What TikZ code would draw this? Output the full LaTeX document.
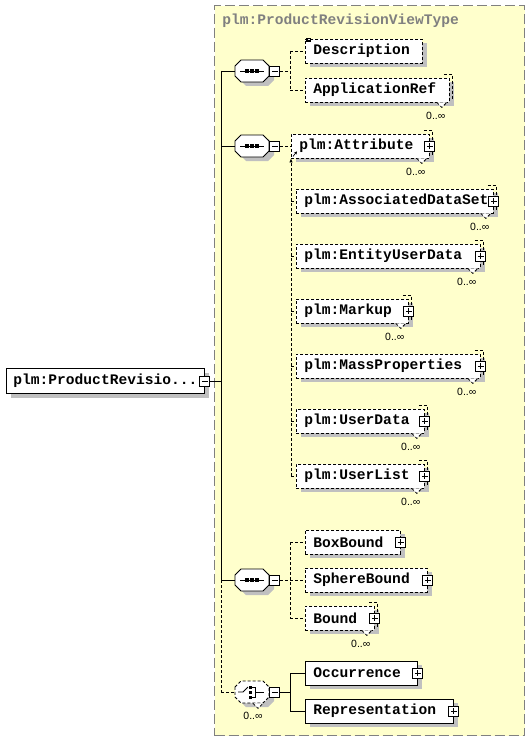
\documentclass[tikz,border=0pt]{standalone}
\usepackage{fontspec}
\usepackage{tikz}
\usetikzlibrary{shadows,calc,arrows.meta}

\newfontfamily\xsdmono{Liberation Mono}
\newfontfamily\xsdsans{Liberation Sans}

\definecolor{xsdyellow}{RGB}{255,255,204}
\definecolor{xsdshadow}{RGB}{192,192,192}
\definecolor{xsdgray}{RGB}{128,128,128}

\begin{document}
\begin{tikzpicture}[x=1pt,y=-1pt,line width=0.8pt]

\def\trunkx{221}
\def\forkx{290}
\def\boxh{24}
\def\elemfont{\xsdmono\bfseries\fontsize{14.6pt}{16pt}\selectfont}
\def\occfont{\xsdsans\fontsize{10.5pt}{12pt}\selectfont}

\tikzset{
    optline/.style={dash pattern=on 3pt off 2pt},
    boxshadow/.style={drop shadow={shadow xshift=5pt,shadow yshift=-4pt,fill=xsdshadow,opacity=1}},
    elem/.style={
        draw, fill=white, boxshadow,
        font=\elemfont,
        minimum height=\boxh pt, inner xsep=8pt, inner ysep=0pt,
        anchor=west, align=left, text width=#1
    },
    rootbox/.style={
        draw, fill=white, boxshadow, font=\elemfont,
        minimum height=25pt, inner xsep=7pt, inner ysep=0pt
    },
    typebox/.style={
        fill=xsdyellow, draw=xsdgray, line width=1.2pt,
        dash pattern=on 10pt off 4pt, inner sep=0pt
    },
    typetitle/.style={font=\elemfont, text=xsdgray, inner sep=0pt},
    occlabel/.style={font=\occfont, inner sep=0pt, anchor=north},
    compositor/.style={minimum width=34pt, minimum height=22pt, inner sep=0pt},
    tgbox/.style={draw, fill=white, minimum size=10pt, inner sep=0pt, solid},
    minusbox/.style={tgbox, path picture={
        \draw (path picture bounding box.center) +(-3,0) -- +(3,0);
    }},
    plusbox/.style={tgbox, path picture={
        \draw (path picture bounding box.center) +(-3,0) -- +(3,0) +(0,-3) -- +(0,3);
    }}
}

\useasboundingbox (0,0) rectangle (530,741);

% Type area
\node[typebox, minimum width=310pt, minimum height=730pt, anchor=north west] (ptype) at (214,5) {};
\node[typetitle, anchor=west] (ptitle) at ($(ptype.north west)+(8,16)$) {plm:ProductRevisionViewType};

% Root element
\node[rootbox, anchor=west] (root) at (6,381) {plm:ProductRevisio...};
\node[minusbox] (root-tg) at (root.east) {};

% Compositors (octagons)
\foreach \nm/\yc/\ln in {seq1/71/solid,seq2/146/solid,seq3/580/solid,choice/692/optline}{
    \node[compositor] (\nm) at (252,\yc) {};
    \fill[xsdshadow] ($(\nm)+(5,4)$) ++(-17,-5) -- ++(6,-6) -- ++(22,0) -- ++(6,6)
        -- ++(0,10) -- ++(-6,6) -- ++(-22,0) -- ++(-6,-6) -- cycle;
    \filldraw[fill=white, \ln] (\nm) ++(-17,-5) -- ++(6,-6) -- ++(22,0) -- ++(6,6)
        -- ++(0,10) -- ++(-6,6) -- ++(-22,0) -- ++(-6,-6) -- cycle;
    \node[minusbox, anchor=west] (\nm-tg) at (\nm.east) {};
}

% Sequence symbols
\foreach \nm in {seq1,seq2,seq3}{
    \draw ($(\nm)+(-12,0)$) -- ($(\nm)+(12,0)$);
    \foreach \dx in {-5,0,5}
        \fill ($(\nm)+(\dx-1.75,-1.75)$) rectangle ++(3.5,3.5);
}

% Choice symbol
\draw ($(choice)+(-14,0)$) -- ($(choice)+(-9,0)$) -- ($(choice)+(-4,-5)$);
\draw ($(choice)+(0,-5)$) -- ($(choice)+(3,-5)$) -- ($(choice)+(3,5)$) -- ($(choice)+(0,5)$);
\draw ($(choice)+(3,0)$) -- ($(choice)+(12,0)$);
\foreach \dy in {-5,0,5}
    \fill ($(choice)+(-3,\dy-1.5)$) rectangle ++(3,3);
\draw[optline, fill=white] ($(choice.south)+(1,0)$) -- ++(5,5) -- ++(5,-5);
\node[occlabel] (choice-occ) at ($(choice.south)+(1,8)$) {0..∞};

% Sequence 1
\node[elem=101pt, optline] (desc) at (305,51) {Description};
\foreach \k in {0,1.6,3.2}
    \draw[line width=0.6pt] ($(desc.north west)+(1,\k)$) -- ++(5,0);
\node[elem=128pt, optline] (appref) at (305,90) {ApplicationRef};
\draw[optline] ($(appref.north east)+(-6,-3)$) -- ($(appref.north east)+(3,-3)$) -- ($(appref.south east)+(3,-3)$);
\draw[optline, fill=white] ($(appref.south east)+(-13,0)$) -- ++(5,5) -- ++(5,-5);
\node[occlabel] (appref-occ) at ($(appref.south east)+(-14,9)$) {0..∞};

% Sequence 2
\node[elem=122pt, optline] (attr) at (291,146) {plm:Attribute};
\draw[optline] ($(attr.north east)+(-6,-3)$) -- ($(attr.north east)+(3,-3)$) -- ($(attr.south east)+(3,-3)$);
\draw[optline, fill=white] ($(attr.south east)+(-13,0)$) -- ++(5,5) -- ++(5,-5);
\node[occlabel] (attr-occ) at ($(attr.south east)+(-14,9)$) {0..∞};
\node[plusbox] (attr-tg) at (attr.east) {};
\draw[-{Stealth[length=3pt,width=3pt]}, line width=0.7pt] ($(attr.south west)+(2,-2)$) -- ($(attr.south west)+(6,-7)$);

\foreach \nm/\txt/\bw/\yc in {assoc/plm:AssociatedDataSet/197/201,
    entity/plm:EntityUserData/184/256, markup/plm:Markup/112/311,
    mass/plm:MassProperties/184/366, udata/plm:UserData/128/421,
    ulist/plm:UserList/128/476}{
    \pgfmathsetmacro\txtw{\bw-16}
    \node[elem=\txtw pt, optline] (\nm) at (296,\yc) {\txt};
    \draw[optline] ($(\nm.north east)+(-6,-3)$) -- ($(\nm.north east)+(3,-3)$) -- ($(\nm.south east)+(3,-3)$);
    \draw[optline, fill=white] ($(\nm.south east)+(-13,0)$) -- ++(5,5) -- ++(5,-5);
    \node[occlabel] (\nm-occ) at ($(\nm.south east)+(-14,9)$) {0..∞};
    \node[plusbox] (\nm-tg) at (\nm.east) {};
}

% Sequence 3
\foreach \nm/\txt/\bw/\yc in {boxb/BoxBound/95/542, sphere/SphereBound/122/580}{
    \pgfmathsetmacro\txtw{\bw-16}
    \node[elem=\txtw pt, optline] (\nm) at (305,\yc) {\txt};
    \node[plusbox] (\nm-tg) at (\nm.east) {};
}
\node[elem=53pt, optline] (bound) at (305,618) {Bound};
\draw[optline] ($(bound.north east)+(-6,-3)$) -- ($(bound.north east)+(3,-3)$) -- ($(bound.south east)+(3,-3)$);
\draw[optline, fill=white] ($(bound.south east)+(-13,0)$) -- ++(5,5) -- ++(5,-5);
\node[occlabel] (bound-occ) at ($(bound.south east)+(-14,9)$) {0..∞};
\node[plusbox] (bound-tg) at (bound.east) {};

% Choice
\foreach \nm/\txt/\bw/\yc in {occ/Occurrence/112/673, rep/Representation/148/711}{
    \pgfmathsetmacro\txtw{\bw-16}
    \node[elem=\txtw pt] (\nm) at (305,\yc) {\txt};
    \node[plusbox] (\nm-tg) at (\nm.east) {};
}

% Trunk
\coordinate (trunk) at (\trunkx,0);
\coordinate (fork) at (\forkx,0);
\draw (root-tg.east) -- (trunk |- root-tg);
\draw (trunk |- seq1) -- (trunk |- seq3);
\draw[optline] (trunk |- seq3) -- (trunk |- choice);
\foreach \nm in {seq1,seq2,seq3}
    \draw (trunk |- \nm) -- (\nm.west);
\draw[optline] (trunk |- choice) -- (choice.west);

% Links of sequence 1
\draw[optline] (seq1-tg.east) -- (fork |- seq1-tg) (fork |- desc) -- (fork |- appref);
\foreach \nm in {desc,appref}
    \draw[optline] (fork |- \nm) -- (\nm.west);

% Links of sequence 2
\draw[optline] (seq2-tg.east) -- (attr.west);
\draw[optline, -{Latex[length=4pt,width=3.5pt]}] (attr.west |- ulist) -- (attr.south west);
\foreach \nm in {assoc,entity,markup,mass,udata,ulist}
    \draw[optline] (attr.west |- \nm) -- (\nm.west);

% Links of sequence 3
\draw[optline] (seq3-tg.east) -- (fork |- seq3-tg) (fork |- boxb) -- (fork |- bound);
\foreach \nm in {boxb,sphere,bound}
    \draw[optline] (fork |- \nm) -- (\nm.west);

% Links of choice
\draw (choice-tg.east) -- (fork |- choice-tg) (fork |- occ) -- (fork |- rep);
\foreach \nm in {occ,rep}
    \draw (fork |- \nm) -- (\nm.west);

\end{tikzpicture}
\end{document}
